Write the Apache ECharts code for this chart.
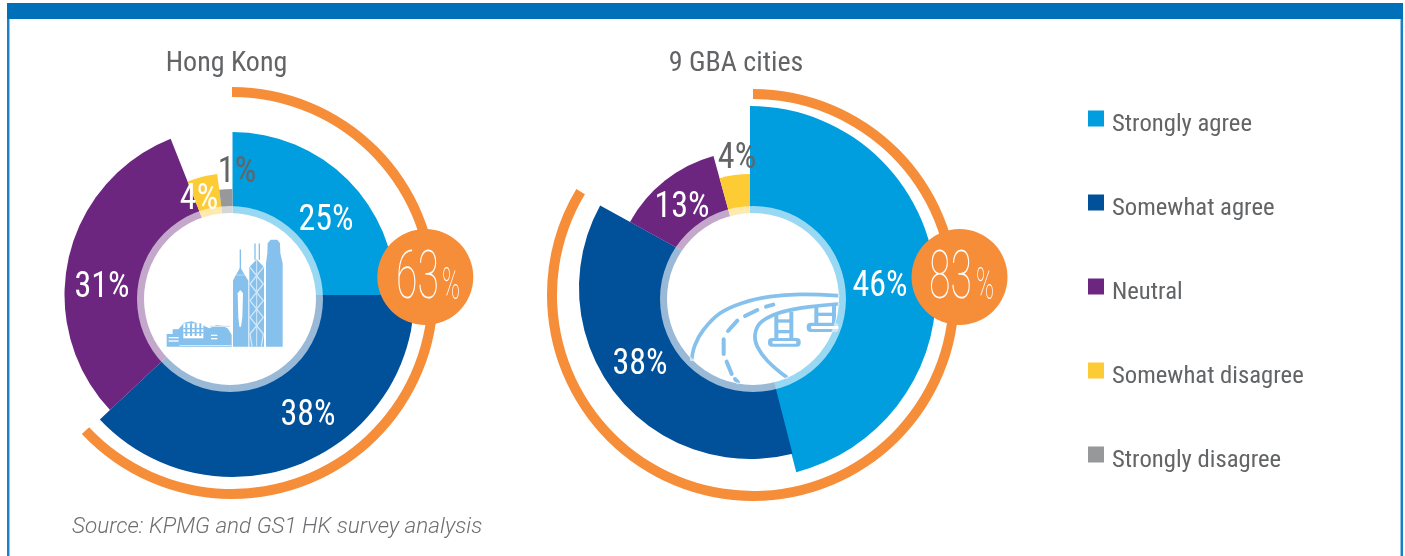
<!DOCTYPE html>
<html>
<head>
<meta charset="utf-8">
<style>html,body{margin:0;padding:0;background:#fff}#c{width:1405px;height:556px}</style>
<script src="https://cdn.jsdelivr.net/npm/echarts@6/dist/echarts.min.js"></script>
</head>
<body>
<div id="c"></div>
<script>
// ---------- data ----------
const categories = ['Strongly agree', 'Somewhat agree', 'Neutral', 'Somewhat disagree', 'Strongly disagree'];
const hkLabels  = [25, 38, 31, 4, 1];
const hkShares  = [25, 38, 31, 4, 2];      // angular share as drawn in the picture
const gbaLabels = [46, 38, 13, 4];
const gbaShares = [46, 37, 12.7, 4.3];     // angular share as drawn in the picture
const agreeLabels = [63, 83];
const agreeShares = [63, 83.6];
const chartTitles = ['Hong Kong', '9 GBA cities'];
const sourceNote = 'Source: KPMG and GS1 HK survey analysis';

// ---------- style & layout ----------
const colors = ['#009ddf', '#00509a', '#6c2680', '#fdcb34', '#97989a'];
const ORANGE = '#f68d39', GREY = '#636466', ICON = '#85c1ec';
const NARROW = '"Liberation Sans Narrow","Roboto Condensed",Roboto,sans-serif';
const hkLayout = {
  centers: [[232.5,295],[232.5,295],[232.5,295],[232.5,295],[232.5,295]],
  radii: [163,182,168,122,106],
  ring: [230,299], arc: [232,293], bubble: [425.3,277],
  labelPos: [[326,221],[308,416],[102,288],[199,200],[237,173]],
  labelFill: ['#fff','#fff','#fff','#fff',GREY],
  big: [396,442], title: [226.5,63.5]
};
const gbaLayout = {
  centers: [[750,292],[750,288],[750,288],[750,288]],
  radii: [186,171,137,114],
  ring: [753,299], arc: [753,295], bubble: [959.5,277],
  labelPos: [[880,287],[640,365],[682,208],[737,159]],
  labelFill: ['#fff','#fff','#fff',GREY],
  big: [929,976], title: [736,63.5]
};
const none = {color:'transparent'};
const quiet = {silent:true, animation:false, label:{show:false}, labelLine:{show:false}, emphasis:{disabled:true}, avoidLabelOverlap:false};

function sliceSeries(shares, layout){
  let cum = 0;
  return shares.map((s,i)=>{
    const start = 90 - cum*3.6;
    cum += s;
    return Object.assign({type:'pie', z:2, center:layout.centers[i], radius:[0,layout.radii[i]], startAngle:start,
      data:[{name:categories[i], value:s, itemStyle:{color:colors[i]}},
            {name:'rest'+i, value:100-s, itemStyle:none}]}, quiet);
  });
}
function decoSeries(layout, share){
  return [
    Object.assign({type:'pie', z:3, center:layout.ring, radius:[0,86], data:[{value:1,name:'disc',itemStyle:{color:'#fff'}}]}, quiet),
    Object.assign({type:'pie', z:6, center:layout.ring, radius:[85,93], data:[{value:1,name:'ring',itemStyle:{color:'rgba(255,255,255,0.6)'}}]}, quiet),
    Object.assign({type:'pie', z:2, center:layout.arc, radius:[196,206], startAngle:90,
      data:[{value:share,name:'arc',itemStyle:{color:ORANGE}},{value:100-share,name:'arcRest',itemStyle:none}]}, quiet),
    Object.assign({type:'pie', z:5, center:layout.bubble, radius:[0,48], data:[{value:1,name:'bubble',itemStyle:{color:ORANGE}}]}, quiet)
  ];
}
function txt(text,x,y,font,fill,align,extra){
  return Object.assign({type:'text', x, y, z:10, silent:true,
    style:{text, font, fill, textAlign:align||'center', textVerticalAlign:'middle'}}, extra||{});
}
function pctLabels(vals, layout){
  return vals.map((v,i)=>txt(v+'%', layout.labelPos[i][0], layout.labelPos[i][1], '37px '+NARROW, layout.labelFill[i], 'center', {scaleX:0.92}));
}
function bigNumber(v, layout){
  const y = layout.bubble[1];
  return [
    txt(String(v), layout.big[0], y+4, '100 67.5px Roboto,sans-serif', '#fff', 'left', {scaleX:0.58}),
    txt('%', layout.big[1], y+11, '100 44px Roboto,sans-serif', '#fff', 'left', {scaleX:0.55})
  ];
}
// ---------- icons (drawn in 3x crop space, then scaled down) ----------
const fill = (pts,c)=>({type:'polygon', z:4, silent:true, shape:{points:pts}, style:{fill:c||ICON}});
const line = (pts,w,c,smooth)=>({type:'polyline', z:4, silent:true, shape:{points:pts, smooth:smooth||0}, style:{fill:'none', stroke:c||ICON, lineWidth:w, lineCap:'round', lineJoin:'round'}});
const box = (x,y,w,h,c,r)=>({type:'rect', z:4, silent:true, shape:{x,y,width:w,height:h,r:r||0}, style:{fill:c||ICON}});
const W = '#fff', L = '#d5e8f8';
const hkIcon = {type:'group', x:160, y:230, scaleX:1/3, scaleY:1/3, children:[
  // right tower
  fill([[318,350],[318,100],[322,70],[323,40],[332,29],[352,29],[360,40],[361,70],[368,100],[368,350]]),
  // lattice tower
  line([[285,88],[285,42]],4), line([[298,88],[298,42]],4),
  fill([[268,350],[268,112],[290,88],[312,112],[312,350]]),
  line([[270,112],[310,162],[270,212],[310,262],[270,312],[276,348]],4,L),
  line([[310,112],[270,162],[310,212],[270,262],[310,312],[304,348]],4,L),
  line([[290,90],[290,348]],3,L),
  // centre tower
  line([[241,120],[241,60]],4),
  fill([[219,350],[219,152],[226,138],[241,112],[256,138],[265,152],[265,350]]),
  line([[228,135],[256,135]],2,L),
  fill([[233,190],[241,180],[249,190],[247,262],[243,290],[238,290],[235,262]],W),
  // convention centre
  fill([[20,350],[20,312],[38,312],[38,298],[55,298],[72,278],[95,274],[125,284],[148,295],[170,285],[190,288],[204,296],[215,314],[215,350]]),
  box(70,280,60,45,W), box(76,280,6,38), box(90,280,6,38), box(104,280,6,38), box(118,280,6,38), box(70,294,60,4), box(70,306,60,4),
  box(26,321,30,4,W), box(26,331,30,4,W), box(153,314,19,4,W), box(153,324,19,4,W), box(58,345,156,3,L),
  box(150,287,60,4,L)
]};
const dashes = [[[165,297],[174,307]],[[140,245],[155,282]],[[131,178],[131,222]],[[144,153],[172,122]],[[195,108],[232,90]],[[258,80],[280,74]]];
const bridgeIcon = {type:'group', x:680, y:280, scaleX:1/3, scaleY:1/3, children:[
  line([[35,238],[45,195],[70,150],[120,100],[190,68],[270,50],[360,43],[474,47]],11,ICON,0.4),
  line([[320,292],[262,242],[232,200],[225,165],[240,130],[280,105],[340,88],[410,78],[474,72]],11,ICON,0.4),
  ...dashes.map(d=>line(d,12)),
  box(283,100,12,78), box(328,95,12,83), box(285,118,50,10), box(285,150,50,10),
  box(264,174,98,26,ICON,11), box(277,183,72,8,W,3),
  box(403,80,12,52), box(456,76,12,56), box(405,98,60,10),
  box(380,128,96,28,ICON,12), box(393,138,82,9,W,4)
]};
// ---------- frame ----------
const frame = [
  {type:'rect', z:9, silent:true, shape:{x:7,y:3,width:1396,height:16}, style:{fill:'#0070b9'}},
  {type:'rect', z:9, silent:true, shape:{x:7,y:19,width:2,height:537}, style:{fill:'#1b7fc4'}},
  {type:'rect', z:9, silent:true, shape:{x:9,y:19,width:1,height:537}, style:{fill:'#8fc6ea'}},
  {type:'rect', z:9, silent:true, shape:{x:1400,y:19,width:1,height:537}, style:{fill:'#8fc6ea'}},
  {type:'rect', z:9, silent:true, shape:{x:1401,y:19,width:2,height:537}, style:{fill:'#1b7fc4'}}
];

const chart = echarts.init(document.getElementById('c'), null, {renderer:'canvas', width:1405, height:556});
chart.setOption({
  animation:false,
  backgroundColor:'#fff',
  legend:{
    orient:'vertical', left:1088, top:110.5, padding:0, selectedMode:false, silent:true,
    data:categories.map(n=>({name:n, icon:'rect'})),
    itemWidth:16, itemHeight:16, itemGap:57.5,
    formatter:'{t|{name}}',
    textStyle:{fontFamily:NARROW, fontSize:24.7, color:GREY,
      rich:{t:{fontFamily:NARROW, fontSize:24.7, color:GREY, padding:[12,0,0,3]}}}
  },
  series:[
    ...sliceSeries(hkShares,hkLayout), ...decoSeries(hkLayout,agreeShares[0]),
    ...sliceSeries(gbaShares,gbaLayout), ...decoSeries(gbaLayout,agreeShares[1])
  ],
  graphic:{elements:[
    ...frame,
    hkIcon, bridgeIcon,
    txt(chartTitles[0],hkLayout.title[0],hkLayout.title[1],'28px '+NARROW,GREY),
    txt(chartTitles[1],gbaLayout.title[0],gbaLayout.title[1],'28px '+NARROW,GREY),
    ...pctLabels(hkLabels,hkLayout), ...pctLabels(gbaLabels,gbaLayout),
    ...bigNumber(agreeLabels[0],hkLayout), ...bigNumber(agreeLabels[1],gbaLayout),
    txt(sourceNote,72,527,'italic 300 22.5px Roboto,sans-serif','#6d6e71','left')
  ]}
});
</script>
</body>
</html>
